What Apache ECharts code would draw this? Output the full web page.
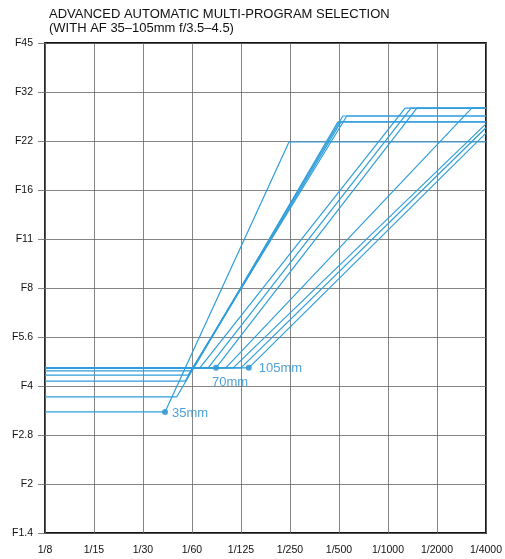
<!DOCTYPE html>
<html>
<head>
<meta charset="utf-8">
<script src="https://cdn.jsdelivr.net/npm/echarts@6/dist/echarts.min.js"></script>
<style>
  html, body { margin: 0; padding: 0; background: #fff; }
  #chart { width: 505px; height: 559px; }
</style>
</head>
<body>
<div id="chart"></div>
<script>
// axes in stops: x counted from 1/8 s, y counted from F1.4
const shutterLabels = ['1/8', '1/15', '1/30', '1/60', '1/125', '1/250', '1/500', '1/1000', '1/2000', '1/4000'];
const apertureLabels = ['F1.4', 'F2', 'F2.8', 'F4', 'F5.6', 'F8', 'F11', 'F16', 'F22', 'F32', 'F45'];

// program lines, [shutter stop, aperture stop]
const line35 = [[0, 2.47], [2.45, 2.47], [4.98, 7.98], [9, 7.98]];
const lineA1 = [[0, 2.78], [2.69, 2.78], [5.98, 8.39], [9, 8.39]];
const lineA2 = [[0, 3.10], [2.86, 3.10], [6.08, 8.51], [9, 8.51]];
const lineA3 = [[0, 3.22], [2.92, 3.22], [6.16, 8.51], [9, 8.51]];
const lineA4 = [[0, 3.31], [3.00, 3.31], [6.04, 8.39], [9, 8.39]];
const lineB1 = [[0, 3.37], [3.16, 3.37], [7.35, 8.67], [9, 8.67]];
const lineB2 = [[0, 3.37], [3.33, 3.37], [7.47, 8.67], [9, 8.67]];
const lineB3 = [[0, 3.37], [3.49, 3.37], [7.59, 8.67], [9, 8.67]];
const lineC1 = [[0, 3.37], [3.69, 3.37], [8.71, 8.67], [9, 8.67]];
const lineC2 = [[0, 3.37], [3.84, 3.37], [9, 8.35]];
const lineC3 = [[0, 3.37], [4.00, 3.37], [9, 8.27]];
const lineC4 = [[0, 3.37], [4.16, 3.37], [9, 8.16]];

const programLines = [line35, lineA1, lineA2, lineA3, lineA4, lineB1, lineB2, lineB3, lineC1, lineC2, lineC3, lineC4];

const focalNames = ['35mm', '70mm', '105mm'];
const focalPoints = [[2.45, 2.47], [3.49, 3.37], [4.16, 3.37]];

const blue = '#2f9edb';
const font = 'Liberation Sans, Arial, sans-serif';
const chart = echarts.init(document.getElementById('chart'), null, { renderer: 'canvas' });

const series = programLines.map(function (pts) {
  return {
    type: 'line',
    data: pts,
    symbol: 'none',
    silent: true,
    lineStyle: { color: blue, width: 1.2 }
  };
});

series.push({
  type: 'scatter',
  symbolSize: 6,
  itemStyle: { color: '#1f8ad0' },
  data: focalPoints.map(function (p, i) {
    return {
      value: p,
      label: {
        show: true,
        formatter: focalNames[i],
        position: i === 1 ? 'bottom' : 'right',
        offset: i === 1 ? [14, 1] : [0, 1],
        distance: i === 2 ? 7 : 4,
        color: '#1f8ad0',
        fontSize: 13,
        fontFamily: font
      }
    };
  })
});

chart.setOption({
  animation: false,
  title: {
    text: 'ADVANCED AUTOMATIC MULTI-PROGRAM SELECTION\n(WITH AF 35\u2013105mm f/3.5\u20134.5)',
    left: 44,
    top: 2,
    textStyle: {
      fontSize: 13,
      fontWeight: 'normal',
      color: '#111',
      lineHeight: 14,
      fontFamily: font
    }
  },
  grid: {
    left: 45, right: 18, top: 43, bottom: 26,
    show: true, borderColor: '#111', borderWidth: 1.8
  },
  xAxis: {
    type: 'value',
    min: 0, max: 9, interval: 1,
    axisLine: { show: false },
    axisTick: { show: false },
    splitLine: { show: true, lineStyle: { color: '#666', width: 0.8 } },
    axisLabel: {
      margin: 12,
      color: '#111',
      fontSize: 10.5,
      fontFamily: font,
      formatter: function (v) { return shutterLabels[Math.round(v)]; }
    }
  },
  yAxis: {
    type: 'value',
    min: 0, max: 10, interval: 1,
    axisLine: { show: false },
    axisTick: { show: true, length: 7, lineStyle: { color: '#666', width: 0.8 } },
    splitLine: { show: true, lineStyle: { color: '#666', width: 0.8 } },
    axisLabel: {
      margin: 12,
      color: '#111',
      fontSize: 10.5,
      fontFamily: font,
      formatter: function (v) { return apertureLabels[Math.round(v)]; }
    }
  },
  series: series
});
</script>
</body>
</html>
